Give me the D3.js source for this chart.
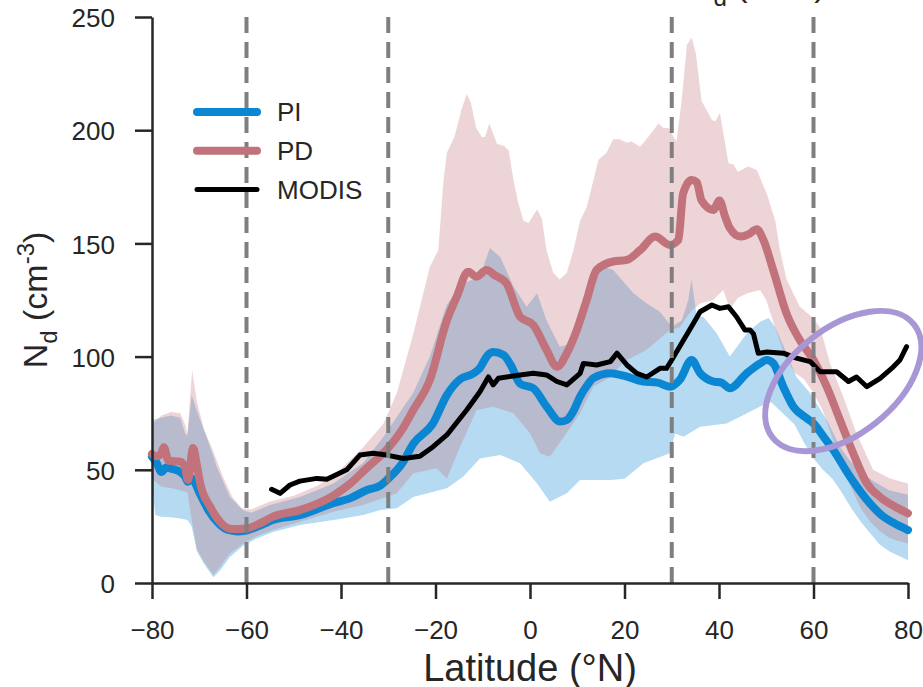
<!DOCTYPE html>
<html>
<head>
<meta charset="utf-8">
<script src="https://cdn.jsdelivr.net/npm/d3@7"></script>
<style>
  body { margin: 0; background: #fff; }
  text { font-family: "Liberation Sans", Arial, sans-serif; fill: #262626; }
</style>
</head>
<body>
<script>
// Data: [latitude (°N), Nd (cm-3)]
const piMean = [[-80,55.8],[-79,53],[-78,49],[-77,51],[-76,50.5],[-74,49],[-73,47],[-72.4,44.7],[-71.5,46],[-70,40],[-68,32],[-66,26.5],[-64,23.5],[-62,22.8],[-60,23.2],[-57,25.5],[-54.4,27.8],[-48.7,30],[-41.7,35.2],[-38,37.5],[-34.6,41],[-31.7,43],[-30.3,45.5],[-27,53],[-24.7,61.5],[-20.5,70.6],[-17.6,83],[-14.8,90],[-12,92.5],[-10.6,95],[-9,100.5],[-7.8,102],[-5.6,100.7],[-4,96],[-2.1,88],[0.7,86],[3.5,78],[6.4,71.3],[7.8,72],[9.2,76],[10.6,82.3],[12,87],[13.4,90.5],[17,92.7],[20,91.5],[24,89],[27,88.5],[29.6,86.7],[31.7,89.7],[34.2,98.5],[36,92.7],[38.8,89],[40.5,88.5],[42.3,86],[45.9,92.7],[48.7,97],[50.1,98.5],[51.5,97],[53.6,86.7],[55.7,78],[58.6,72.7],[60,70.5],[62,65],[64.2,58.7],[67.7,47],[71.3,36.7],[74.8,29.3],[77,26.5],[80,23.4]];

const piUpper = [[-80,72],[-78,73],[-76,74],[-74,73],[-73,66],[-72.5,65],[-71.6,83],[-70.5,76],[-69,67.6],[-67,56],[-66.3,51.4],[-63.5,38],[-60.7,32],[-59,31],[-55,34.5],[-48.7,38],[-41.6,44],[-35.3,53],[-31,64.6],[-28,74],[-24.7,84],[-21.2,100],[-17.6,123],[-14.1,132.4],[-10.6,135.3],[-8.5,148],[-6.3,144],[-3.5,131],[-0.7,122],[1.5,128],[3.5,116],[6.3,104.4],[9.2,106],[13.4,136.8],[15.5,139.7],[17.6,138.3],[21.9,128],[24.7,123.5],[27.5,119.8],[30,113.2],[32.1,116],[33.5,125],[34.2,134],[35.3,117.6],[36.7,117.6],[39.5,110.3],[42.3,100],[45.9,110.3],[48.7,115.4],[50.5,117],[51.9,113],[54.3,101.5],[56.4,91],[59.3,83.8],[62.8,72],[65.6,60.2],[67.7,54],[70,49],[72.6,45],[76,41],[80,39]];

const piLower = [[-80,44],[-79.3,30],[-78,29.3],[-76,29],[-74,28.5],[-72.5,27.8],[-71.6,25],[-70.5,14],[-69,8.5],[-67,2.5],[-65.6,5.5],[-63.5,11.5],[-60.7,16.5],[-58,19.5],[-54.4,22.5],[-48.7,25.6],[-41.6,27.8],[-35.3,30],[-31.7,32.2],[-28.2,33],[-24.7,38],[-17.6,41.8],[-14.1,47],[-10.6,55],[-6.3,56.5],[-2.1,52.9],[1.5,44],[4.2,35.9],[7.8,39.6],[10.6,45.5],[13.4,45.5],[17,45.5],[20,46],[24,52.9],[29.6,57.3],[30.7,66],[32.5,64.6],[36,69],[41.6,70.5],[45.9,75],[48.7,78],[51,80],[53,76],[56,70],[58,62],[60,55],[62,50],[64,46],[66,40],[68,33],[70,27],[72,22],[74,17],[76,14],[78,12],[80,10]];

const pdMean = [[-80,57],[-79,56],[-78,57.4],[-77.5,60],[-76.5,54],[-74,53.6],[-73,51],[-72.4,45.5],[-71.3,59.6],[-70.5,52],[-69.8,44],[-67.7,33.7],[-65.6,27],[-63.1,23.8],[-60,24.1],[-57,26.5],[-54.4,29.3],[-48.7,32.2],[-41.7,38.5],[-38,44],[-34.6,50.7],[-30.3,59],[-27,68],[-24.7,76.4],[-21.2,89.7],[-17.6,116],[-15.5,126.5],[-13.1,137.5],[-11.3,135.3],[-9.2,138.3],[-7.5,136],[-5,132.4],[-2.1,117.6],[0.7,114],[3.5,103],[5.7,95.5],[7.8,101.5],[9.9,111.7],[12,125],[14.1,138.3],[17.6,142],[20.5,142.7],[23.3,147],[26.5,153],[29.6,149.3],[31.4,151.5],[32.4,172],[34.2,178],[35.3,177],[36.3,169],[38.8,164.8],[40.1,169],[41.3,161.8],[42.3,156.7],[44.5,153],[46.2,154],[48,156.2],[49.4,151.5],[51.5,138],[54.3,119],[57.1,107.3],[60,98.5],[62.8,86.7],[65.6,72],[68.4,57.3],[71.3,44],[74.1,38],[77,34],[80,30.8]];

const pdUpper = [[-80,70],[-78,74],[-76,75.5],[-74,75],[-73,70],[-72.5,66],[-71.5,94],[-70.5,80],[-69,68],[-67,58],[-65,47],[-63,38],[-61,33],[-59,32.5],[-55,36],[-50,38.5],[-45,43],[-41.6,47],[-35.3,60],[-31,70.5],[-28.2,83.8],[-24.7,110],[-21.2,139.7],[-19.4,147],[-18.3,178],[-17.6,190],[-16,197],[-14.5,209],[-13.4,216],[-12.5,212],[-11.4,201],[-10.2,197],[-9.5,197],[-8.6,203],[-7,194],[-5.5,193],[-4.5,191],[-3.5,178],[-2.5,168],[-1.4,160],[-0.3,159],[1.5,165],[2.5,161],[3.5,147],[4.9,137],[6.3,134],[7.8,137],[9.2,147],[10.6,160],[12,166],[14.5,187],[16.2,190],[17.6,196],[19,196],[20.5,194.5],[21.5,195],[23.3,192.7],[25.4,198],[27.2,203],[28.2,201],[29.3,201],[31,195],[32.1,213],[33.2,237.6],[34.2,241],[35.1,234],[36.3,213],[38.5,204.5],[39.2,204],[40.2,207.5],[42,185.4],[43,185],[44,181.7],[46.2,184],[48,182.4],[50.1,172],[51.9,160],[52.9,147],[54.3,134],[57.1,122],[59.6,117.6],[61.4,113],[63.5,97],[66.3,82.3],[69.1,66],[72.6,50],[76.2,46.2],[80,44]];

const pdLower = [[-80,46],[-78,42.5],[-76,42],[-74,41],[-72.5,40],[-71.6,28],[-70.5,15],[-69,9.4],[-67,3.5],[-65.6,7.2],[-63.5,13],[-60.7,17.5],[-58,20.5],[-54.4,23.4],[-48.7,27],[-41.6,31.5],[-35.3,34.5],[-28.2,39.6],[-24.7,48.5],[-19.8,50.7],[-17.6,46.2],[-14.8,60.2],[-11.3,76.4],[-7.8,77.9],[-3.5,75],[0,66.1],[2.1,57.3],[4.2,55.8],[6.3,62],[10.6,75],[13.4,86.7],[17,91],[20,98],[24.7,103],[29.6,111.7],[31.7,113],[34,120],[36,123.5],[38.8,125],[40.9,129.4],[42.3,121],[44,126],[46,128],[48.7,129.4],[50,125],[52,112],[54,100],[56,93],[58,90],[60,84],[62,76],[64,64],[66,52],[68,42],[70,33],[72,27],[74,23],[76,20],[78,18.5],[80,17.5]];

const modis = [[-54.7,41.4],[-52.9,39.6],[-50.8,43.3],[-48.7,45],[-45.1,46.2],[-43,45.8],[-38.8,50],[-36,56.5],[-33.2,57.3],[-30.3,56.5],[-26.8,55],[-23.3,56],[-20.5,60.2],[-17.6,65.4],[-13.4,76.4],[-10.6,84.5],[-8.8,91],[-7.8,87.5],[-6.7,90.4],[-2.1,91.9],[0.7,92.6],[3.5,91.9],[5.7,89],[7.8,87.5],[10.6,92.6],[11.3,97],[14.1,96.3],[17,97.8],[18.4,101.5],[20.5,96.3],[22.6,92.6],[24.7,91],[27.5,94.8],[28.9,94.8],[30,98.5],[32.5,107.3],[34.6,114.7],[36,119.8],[38.5,122.8],[40.2,121.3],[42,122],[43.7,117.6],[45.5,111.7],[46.6,111.7],[47.3,110],[48.3,101.5],[50.1,102],[53.6,101.5],[56.4,99.3],[59.3,97.8],[61.4,93.3],[64.9,93.3],[67.4,89],[69.1,91],[71.3,86.7],[74.1,90.4],[76.9,95.5],[78.3,98.5],[79.7,104.4]];

const regionEdges = [-60, -30, 30, 60];
const xTicks = [-80, -60, -40, -20, 0, 20, 40, 60, 80];
const yTicks = [0, 50, 100, 150, 200, 250];
const legendItems = [
  { name: 'PI', color: '#0a86d2', width: 8 },
  { name: 'PD', color: '#c1727b', width: 8 },
  { name: 'MODIS', color: '#000', width: 5 }
];
const highlight = { lat: 66.3, nd: 89.2 };

// Layout
const width = 923, height = 687;
const plot = { left: 152, right: 908, top: 17, bottom: 583 };

const svg = d3.select('body').append('svg')
  .attr('width', width)
  .attr('height', height);

const x = d3.scaleLinear().domain([-80, 80]).range([plot.left, plot.right]);
const y = d3.scaleLinear().domain([0, 250]).range([plot.bottom, plot.top]);

const line = d3.line().x(d => x(d[0])).y(d => y(d[1]));
const smooth = d3.line().x(d => x(d[0])).y(d => y(d[1])).curve(d3.curveMonotoneX);

// shaded ranges: upper edge then lower edge backwards
function band(upper, lower) {
  return line(upper.concat(lower.slice().reverse())) + 'Z';
}

svg.append('path').attr('d', band(piUpper, piLower))
  .attr('fill', '#0a86d2').attr('fill-opacity', 0.3);
svg.append('path').attr('d', band(pdUpper, pdLower))
  .attr('fill', '#c1727b').attr('fill-opacity', 0.3);

svg.append('path').attr('d', smooth(piMean))
  .attr('fill', 'none').attr('stroke', '#0a86d2').attr('stroke-width', 8)
  .attr('stroke-linejoin', 'round').attr('stroke-linecap', 'round');
svg.append('path').attr('d', smooth(pdMean))
  .attr('fill', 'none').attr('stroke', '#c1727b').attr('stroke-width', 8)
  .attr('stroke-linejoin', 'round').attr('stroke-linecap', 'round');
svg.append('path').attr('d', line(modis))
  .attr('fill', 'none').attr('stroke', '#000').attr('stroke-width', 5)
  .attr('stroke-linejoin', 'round').attr('stroke-linecap', 'round');

// dashed region boundaries
svg.append('g').selectAll('line')
  .data(regionEdges)
  .join('line')
  .attr('x1', d => x(d)).attr('x2', d => x(d))
  .attr('y1', y(250)).attr('y2', y(0))
  .attr('stroke', '#7f7f7f').attr('stroke-width', 4)
  .attr('stroke-dasharray', '16,9');

// Axes
const xAxis = svg.append('g')
  .attr('transform', `translate(0,${plot.bottom})`)
  .call(d3.axisBottom(x).tickValues(xTicks).tickSize(16).tickSizeOuter(0).tickPadding(22));
const yAxis = svg.append('g')
  .attr('transform', `translate(${plot.left},0)`)
  .call(d3.axisLeft(y).tickValues(yTicks).tickSize(17).tickSizeOuter(0).tickPadding(20));

[xAxis, yAxis].forEach(g => {
  g.select('.domain').attr('stroke', '#262626').attr('stroke-width', 2.5);
  g.selectAll('.tick line').attr('stroke', '#262626').attr('stroke-width', 2.5);
  g.selectAll('.tick text').attr('font-size', 26).attr('fill', '#262626')
    .style('font-family', '"Liberation Sans", Arial, sans-serif');
});
yAxis.selectAll('.tick text').attr('dy', '0.37em');

// Axis labels
svg.append('text')
  .attr('x', (plot.left + plot.right) / 2).attr('y', 681)
  .attr('text-anchor', 'middle').attr('font-size', 38)
  .text('Latitude (°N)');

function ndLabel(sel) {
  sel.append('tspan').text('N');
  sel.append('tspan').attr('font-size', 24).attr('dy', 10).text('d');
  sel.append('tspan').attr('dy', -10).text(' (cm');
  sel.append('tspan').attr('font-size', 24).attr('dy', -13).text('-3');
  sel.append('tspan').attr('dy', 13).text(')');
}

svg.append('text')
  .attr('transform', 'translate(47,300) rotate(-90)')
  .attr('text-anchor', 'middle').attr('font-size', 34)
  .call(ndLabel);

// panel title, mostly cut off by the top edge
svg.append('text')
  .attr('x', 689).attr('y', -4)
  .attr('font-size', 34)
  .call(ndLabel);

// Legend
const legend = svg.append('g').attr('transform', 'translate(197,112)');
const item = legend.selectAll('g')
  .data(legendItems)
  .join('g')
  .attr('transform', (d, i) => `translate(0,${i * 38.8})`);
item.append('line')
  .attr('x1', 0).attr('x2', 60)
  .attr('stroke', d => d.color).attr('stroke-width', d => d.width)
  .attr('stroke-linecap', 'round');
item.append('text')
  .attr('x', 80).attr('dy', '0.36em')
  .attr('font-size', 26)
  .text(d => d.name);

// highlight ellipse
svg.append('ellipse')
  .attr('transform', `translate(${x(highlight.lat)},${y(highlight.nd)}) rotate(-38.7)`)
  .attr('rx', 90.5).attr('ry', 53)
  .attr('fill', 'none')
  .attr('stroke', '#a897d4').attr('stroke-width', 6);
</script>
</body>
</html>
